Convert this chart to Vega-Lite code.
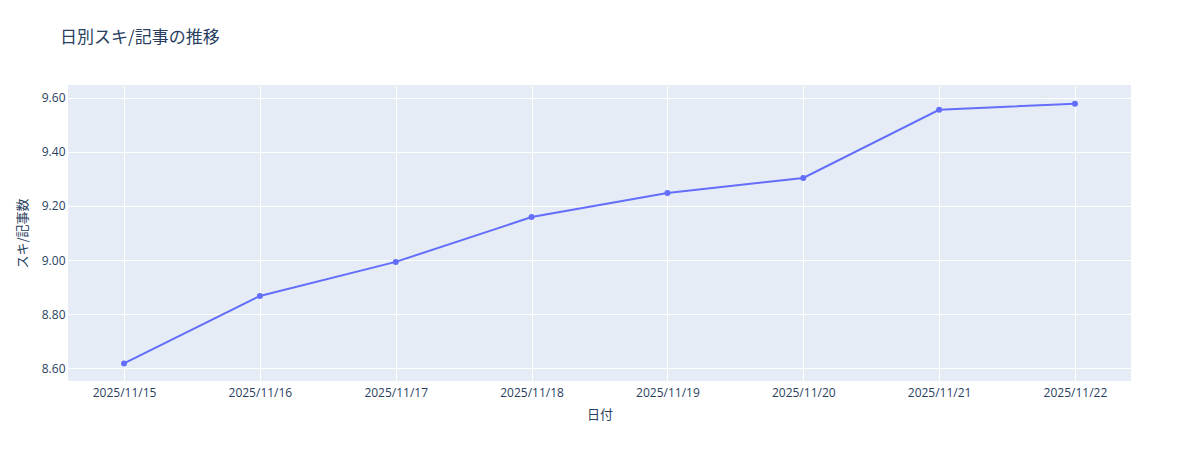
{
  "$schema": "https://vega.github.io/schema/vega-lite/v6.json",
  "autosize": {"type": "none"},
  "width": 1063,
  "height": 296,
  "padding": {"left": 68, "top": 85, "right": 69, "bottom": 69},
  "background": "white",
  "title": {
    "text": "日別スキ/記事の推移",
    "anchor": "start",
    "frame": "group",
    "dx": -8,
    "offset": 38,
    "fontSize": 17,
    "fontWeight": "normal",
    "font": "Noto Sans CJK JP",
    "color": "#2a3f5f"
  },
  "data": {
    "values": [
      {"date": "2025-11-15", "value": 8.617},
      {"date": "2025-11-16", "value": 8.867},
      {"date": "2025-11-17", "value": 8.993},
      {"date": "2025-11-18", "value": 9.159},
      {"date": "2025-11-19", "value": 9.248},
      {"date": "2025-11-20", "value": 9.304},
      {"date": "2025-11-21", "value": 9.556},
      {"date": "2025-11-22", "value": 9.579}
    ]
  },
  "encoding": {
    "x": {
      "field": "date",
      "type": "temporal",
      "title": "日付",
      "scale": {
        "type": "utc",
        "domain": [
          {"year": 2025, "month": 11, "date": 14, "hours": 14, "minutes": 6, "utc": true},
          {"year": 2025, "month": 11, "date": 22, "hours": 9, "minutes": 54, "utc": true}
        ]
      },
      "axis": {
        "labelExpr": "utcFormat(datum.value, '%Y/%m/%d')",
        "tickCount": {"interval": "day", "step": 1},
        "labelPadding": 6,
        "titlePadding": 10
      }
    },
    "y": {
      "field": "value",
      "type": "quantitative",
      "title": "スキ/記事数",
      "scale": {"domain": [8.552, 9.648], "nice": false, "zero": false},
      "axis": {
        "values": [8.6, 8.8, 9.0, 9.2, 9.4, 9.6],
        "format": ".2f",
        "labelPadding": 3,
        "titlePadding": 12
      }
    }
  },
  "layer": [
    {"mark": {"type": "line", "color": "#636EFA", "strokeWidth": 2}},
    {"mark": {"type": "point", "filled": true, "color": "#636EFA", "size": 36, "opacity": 1}}
  ],
  "config": {
    "font": "Noto Sans CJK JP",
    "view": {"fill": "#E5ECF6", "stroke": null},
    "axis": {
      "grid": true,
      "gridColor": "white",
      "gridWidth": 1,
      "domain": false,
      "ticks": false,
      "labelFont": "Open Sans",
      "labelFontSize": 12,
      "labelColor": "#2a3f5f",
      "titleFont": "Noto Sans CJK JP",
      "titleFontSize": 13,
      "titleFontWeight": "normal",
      "titleColor": "#2a3f5f"
    }
  }
}
